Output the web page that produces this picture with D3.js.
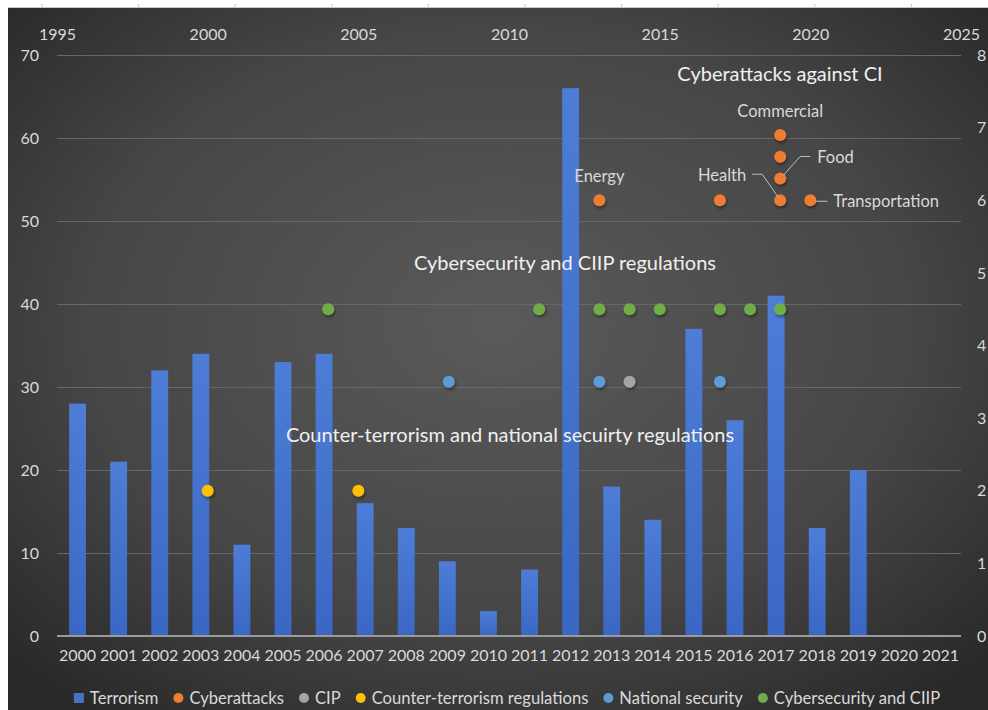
<!DOCTYPE html>
<html>
<head>
<meta charset="utf-8">
<script src="https://cdn.jsdelivr.net/npm/d3@7/dist/d3.min.js"></script>
<style>
  html, body { margin: 0; padding: 0; background: #ffffff; }
  svg { display: block; font-family: Lato, "Open Sans", sans-serif; }
</style>
</head>
<body>
<svg id="chart" width="988" height="710"></svg>
<script>
// Bar series: terrorism incidents per year (left axis)
const years = [2000, 2001, 2002, 2003, 2004, 2005, 2006, 2007, 2008, 2009, 2010,
               2011, 2012, 2013, 2014, 2015, 2016, 2017, 2018, 2019, 2020, 2021];
const terrorism = [28, 21, 32, 34, 11, 33, 34, 16, 13, 9, 3,
                   8, 66, 18, 14, 37, 26, 41, 13, 20, 0, 0];

// Scatter series on the secondary axes (top year axis, right value axis)
const cyberYears  = [2013, 2017, 2019, 2019, 2019, 2019, 2020];
const cyberValues = [6, 6, 6, 6.3, 6.6, 6.9, 6];
const cyberLabels = ["Energy", "", "Health", "Food", "", "Commercial", "Transportation"];

const cipYears  = [2014];
const cipValues = [3.5];

const counterYears  = [2000, 2005];
const counterValues = [2, 2];

const nationalYears  = [2008, 2013, 2017];
const nationalValues = [3.5, 3.5, 3.5];

const cyberRegYears  = [2004, 2011, 2013, 2014, 2015, 2017, 2018, 2019];
const cyberRegValues = [4.5, 4.5, 4.5, 4.5, 4.5, 4.5, 4.5, 4.5];

const leftTicks  = [0, 10, 20, 30, 40, 50, 60, 70];
const rightTicks = [0, 1, 2, 3, 4, 5, 6, 7, 8];
const topTicks   = [1995, 2000, 2005, 2010, 2015, 2020, 2025];

const colors = {
  terrorism: "#4472C4",
  cyber: "#ED7D31",
  cip: "#A5A5A5",
  counter: "#FFC000",
  national: "#5B9BD5",
  cyberReg: "#70AD47"
};

const legendItems = [
  { name: "Terrorism", color: colors.terrorism, shape: "square" },
  { name: "Cyberattacks", color: colors.cyber, shape: "circle" },
  { name: "CIP", color: colors.cip, shape: "circle" },
  { name: "Counter-terrorism regulations", color: colors.counter, shape: "circle" },
  { name: "National security", color: colors.national, shape: "circle" },
  { name: "Cybersecurity and CIIP", color: colors.cyberReg, shape: "circle" }
];

const W = 988, H = 710;
const plot = { left: 57, right: 961, top: 55, bottom: 636 };
const textColor = "#d9d9d9";

const svg = d3.select("#chart");
const defs = svg.append("defs");

// Dark chart-area background with a soft radial highlight
const bg = defs.append("radialGradient").attr("id", "bgGrad")
  .attr("cx", "50%").attr("cy", "45%").attr("r", "70%");
bg.append("stop").attr("offset", "0%").attr("stop-color", "#5a5a5a");
bg.append("stop").attr("offset", "60%").attr("stop-color", "#464646");
bg.append("stop").attr("offset", "100%").attr("stop-color", "#282828");

const barGrad = defs.append("linearGradient").attr("id", "barGrad")
  .attr("x1", 0).attr("x2", 0).attr("y1", 0).attr("y2", 1);
barGrad.append("stop").attr("offset", "0%").attr("stop-color", "#4d7dd6");
barGrad.append("stop").attr("offset", "100%").attr("stop-color", "#3a67c3");

const shadow = defs.append("filter").attr("id", "dotShadow")
  .attr("x", "-50%").attr("y", "-50%").attr("width", "200%").attr("height", "200%");
shadow.append("feDropShadow").attr("dx", 1).attr("dy", 2).attr("stdDeviation", 1.5)
  .attr("flood-color", "#000").attr("flood-opacity", 0.45);

svg.append("rect").attr("width", W).attr("height", H).attr("fill", "#ffffff");
svg.append("rect").attr("x", 8).attr("y", 8).attr("width", W - 8).attr("height", H - 8)
  .attr("fill", "url(#bgGrad)");

// Thin ruler strip along the top edge
svg.append("line").attr("x1", 8).attr("x2", W).attr("y1", 7.5).attr("y2", 7.5)
  .attr("stroke", "#c8c8c8").attr("stroke-width", 1);
svg.append("g").selectAll("line").data(d3.range(0, 10)).join("line")
  .attr("x1", i => 42 + i * 96.6).attr("x2", i => 42 + i * 96.6)
  .attr("y1", 4).attr("y2", 8).attr("stroke", "#c8c8c8");

// Scales
const x = d3.scaleBand().domain(years).range([plot.left, plot.right])
  .paddingInner(0.59).paddingOuter(0.295);
const yLeft = d3.scaleLinear().domain([0, 70]).range([plot.bottom, plot.top]);
const xTop = d3.scaleLinear().domain([1995, 2025]).range([plot.left, plot.right]);
const yRight = d3.scaleLinear().domain([0, 8]).range([plot.bottom, plot.top]);

// Gridlines
svg.append("g").selectAll("line").data(leftTicks.filter(t => t > 0)).join("line")
  .attr("x1", plot.left).attr("x2", plot.right)
  .attr("y1", d => Math.round(yLeft(d)) + 0.5).attr("y2", d => Math.round(yLeft(d)) + 0.5)
  .attr("stroke", "#676767").attr("stroke-width", 1);

// Axes
const axisFont = 16;
const leftAxis = svg.append("g").attr("transform", `translate(${plot.left - 18},0)`)
  .call(d3.axisLeft(yLeft).tickValues(leftTicks).tickSize(0).tickPadding(0));
const rightAxis = svg.append("g").attr("transform", `translate(${plot.right + 16},0)`)
  .call(d3.axisRight(yRight).tickValues(rightTicks).tickSize(0).tickPadding(0));
const topAxis = svg.append("g").attr("transform", `translate(0,${plot.top - 15})`)
  .call(d3.axisTop(xTop).tickValues(topTicks).tickFormat(d3.format("d")).tickSize(0).tickPadding(0));
const bottomAxis = svg.append("g").attr("transform", `translate(0,${plot.bottom + 14})`)
  .call(d3.axisBottom(x).tickSize(0).tickPadding(0));

[leftAxis, rightAxis, topAxis, bottomAxis].forEach(g => {
  g.select(".domain").remove();
  g.selectAll("text").attr("fill", textColor).style("font-size", axisFont + "px")
    .style("font-family", "Lato, 'Open Sans', sans-serif");
});
topAxis.selectAll("text").attr("dy", "0");
bottomAxis.selectAll("text").attr("dy", "0.71em");

// Bars
svg.append("g").selectAll("rect").data(years.map((y, i) => ({ year: y, v: terrorism[i] })))
  .join("rect")
  .attr("x", d => x(d.year)).attr("width", x.bandwidth())
  .attr("y", d => yLeft(d.v)).attr("height", d => yLeft(0) - yLeft(d.v))
  .attr("fill", "url(#barGrad)");

// Category baseline
svg.append("line").attr("x1", plot.left).attr("x2", plot.right)
  .attr("y1", plot.bottom).attr("y2", plot.bottom)
  .attr("stroke", "#9a9a9a").attr("stroke-width", 2);

// Scatter points
function dots(xs, vs, color) {
  svg.append("g").attr("filter", "url(#dotShadow)")
    .selectAll("circle").data(xs.map((yr, i) => ({ yr, v: vs[i] }))).join("circle")
    .attr("cx", d => xTop(d.yr)).attr("cy", d => yRight(d.v)).attr("r", 6)
    .attr("fill", color);
}
dots(counterYears, counterValues, colors.counter);
dots(nationalYears, nationalValues, colors.national);
dots(cipYears, cipValues, colors.cip);
dots(cyberRegYears, cyberRegValues, colors.cyberReg);
dots(cyberYears, cyberValues, colors.cyber);

// Group annotations
const annoColor = "#f0f0f0";
const annoSize = "20px";
svg.append("text").attr("x", 780).attr("y", 73).attr("text-anchor", "middle")
  .attr("dominant-baseline", "central").attr("fill", annoColor).style("font-size", annoSize)
  .text("Cyberattacks against CI");
svg.append("text").attr("x", 565).attr("y", 262).attr("text-anchor", "middle")
  .attr("dominant-baseline", "central").attr("fill", annoColor).style("font-size", annoSize)
  .text("Cybersecurity and CIIP regulations");
svg.append("text").attr("x", 510).attr("y", 434).attr("text-anchor", "middle")
  .attr("dominant-baseline", "central").attr("fill", annoColor).style("font-size", annoSize)
  .text("Counter-terrorism and national secuirty regulations");

// Point labels for the cyberattack series
const labelStyle = { size: "16.5px", color: "#d9d9d9", line: "#bfbfbf" };
const cyberPts = cyberYears.map((yr, i) => ({
  cx: xTop(yr), cy: yRight(cyberValues[i]), label: cyberLabels[i]
}));
const labelG = svg.append("g");
cyberPts.forEach(p => {
  if (!p.label) return;
  const t = labelG.append("text").attr("fill", labelStyle.color)
    .attr("dominant-baseline", "central").style("font-size", labelStyle.size).text(p.label);
  if (p.label === "Energy" || p.label === "Commercial") {
    t.attr("x", p.cx).attr("y", p.cy - 24).attr("text-anchor", "middle");
  } else if (p.label === "Health") {
    t.attr("x", p.cx - 34).attr("y", p.cy - 25).attr("text-anchor", "end");
    labelG.append("polyline")
      .attr("points", [[p.cx - 28, p.cy - 26], [p.cx - 18, p.cy - 26], [p.cx - 2, p.cy - 3]].join(" "))
      .attr("fill", "none").attr("stroke", labelStyle.line).attr("stroke-width", 1);
  } else if (p.label === "Food") {
    t.attr("x", p.cx + 37).attr("y", p.cy - 21).attr("text-anchor", "start");
    labelG.append("polyline")
      .attr("points", [[p.cx + 3, p.cy - 3], [p.cx + 20, p.cy - 22], [p.cx + 30, p.cy - 22]].join(" "))
      .attr("fill", "none").attr("stroke", labelStyle.line).attr("stroke-width", 1);
  } else if (p.label === "Transportation") {
    t.attr("x", p.cx + 23).attr("y", p.cy + 1).attr("text-anchor", "start");
    labelG.append("line")
      .attr("x1", p.cx + 5).attr("x2", p.cx + 17).attr("y1", p.cy + 1).attr("y2", p.cy + 1)
      .attr("stroke", labelStyle.line).attr("stroke-width", 1);
  }
});

// Legend, centred under the plot
const legend = svg.append("g");
const legendY = 698, legendFont = 16.6, markerGap = 6, itemGap = 15;
let cursor = 0;
legendItems.forEach(item => {
  const g = legend.append("g");
  if (item.shape === "square") {
    g.append("rect").attr("x", 0).attr("y", -5).attr("width", 10).attr("height", 10).attr("fill", item.color);
  } else {
    g.append("circle").attr("cx", 5).attr("cy", 0).attr("r", 5).attr("fill", item.color);
  }
  const t = g.append("text").attr("x", 10 + markerGap).attr("y", 0)
    .attr("dominant-baseline", "central").attr("fill", textColor)
    .style("font-size", legendFont + "px").text(item.name);
  const w = 10 + markerGap + t.node().getComputedTextLength();
  g.attr("transform", `translate(${cursor},${legendY})`);
  cursor += w + itemGap;
});
const legendWidth = cursor - itemGap;
legend.attr("transform", `translate(${507 - legendWidth / 2},0)`);
</script>
</body>
</html>
